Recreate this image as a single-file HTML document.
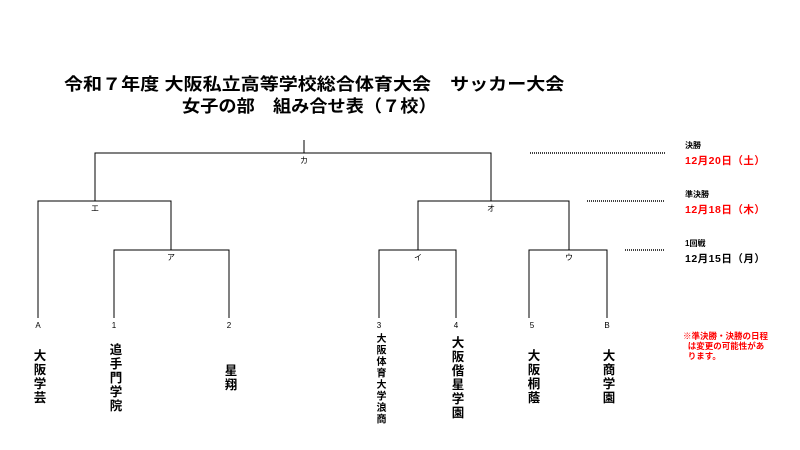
<!DOCTYPE html>
<html><head><meta charset="utf-8"><style>
body{margin:0;width:800px;height:450px;background:#fff;position:relative;overflow:hidden;font-family:"Liberation Sans","Noto Sans CJK JP",sans-serif;}
.t{position:absolute;white-space:nowrap;font-weight:bold;}
.v{position:absolute;writing-mode:vertical-rl;font-weight:bold;font-size:12.5px;line-height:13px;letter-spacing:1.5px;transform:translateX(-50%);}
.s{position:absolute;font-size:8px;transform:translateX(-50%);}
</style></head><body>
<div class="t" style="left:64px;top:70px;font-size:17px;transform-origin:0 0;transform:scaleX(1.12);">令和７年度 大阪私立高等学校総合体育大会　サッカー大会</div>
<div class="t" style="left:182px;top:92px;font-size:17px;transform-origin:0 0;transform:scaleX(1.07);">女子の部　組み合せ表（７校）</div>
<svg width="800" height="450" style="position:absolute;left:0;top:0" stroke="#000" stroke-width="1" fill="none">
<path d="M304 140V153M95 201V153H491V201M38 318V201H171V250M418 250V201H569V250M114 318V250H229V318M379 318V250H456V318M529 318V250H607V318"/>
<g stroke-dasharray="1,1" stroke-width="1.5"><path d="M530 153H665M587 201H665M625 250H665"/></g>
</svg>
<div class="s" style="left:304px;top:155px">カ</div>
<div class="s" style="left:95px;top:203px">エ</div>
<div class="s" style="left:491px;top:203px">オ</div>
<div class="s" style="left:171px;top:252px">ア</div>
<div class="s" style="left:418px;top:252px">イ</div>
<div class="s" style="left:569px;top:252px">ウ</div>
<div class="s" style="left:38px;top:321px">A</div>
<div class="s" style="left:114px;top:321px">1</div>
<div class="s" style="left:229px;top:321px">2</div>
<div class="s" style="left:379px;top:321px">3</div>
<div class="s" style="left:456px;top:321px">4</div>
<div class="s" style="left:532px;top:321px">5</div>
<div class="s" style="left:607px;top:321px">B</div>
<div class="v" style="left:38px;top:349px">大阪学芸</div>
<div class="v" style="left:114px;top:343px">追手門学院</div>
<div class="v" style="left:229px;top:364px">星翔</div>
<div class="v" style="left:379px;top:333px;font-size:10px;line-height:10px;letter-spacing:1.5px">大阪体育大学浪商</div>
<div class="v" style="left:456px;top:336px">大阪偕星学園</div>
<div class="v" style="left:532px;top:349px">大阪桐蔭</div>
<div class="v" style="left:607px;top:349px">大商学園</div>
<div class="t" style="left:685px;top:140px;font-size:8px;font-weight:bold">決勝</div>
<div class="t" style="left:685px;top:153px;font-size:10.5px;color:#f00;letter-spacing:0.5px">12月20日（土）</div>
<div class="t" style="left:685px;top:189px;font-size:8px">準決勝</div>
<div class="t" style="left:685px;top:202px;font-size:10.5px;color:#f00;letter-spacing:0.5px">12月18日（木）</div>
<div class="t" style="left:685px;top:238px;font-size:8px">1回戦</div>
<div class="t" style="left:685px;top:251px;font-size:10.5px;letter-spacing:0.5px">12月15日（月）</div>
<div class="t" style="left:683px;top:331px;font-size:8.5px;line-height:10px;color:#f00">※準決勝・決勝の日程<br>&nbsp;&nbsp;は変更の可能性があ<br>&nbsp;&nbsp;ります。</div>
</body></html>
